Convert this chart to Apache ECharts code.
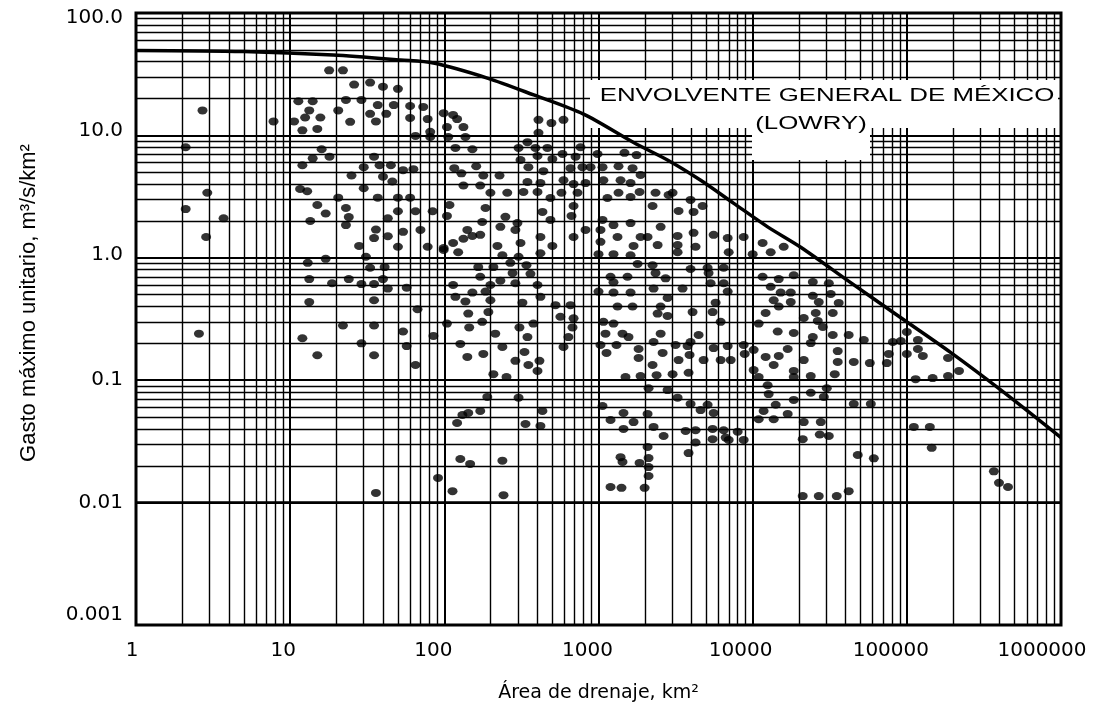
<!DOCTYPE html>
<html>
<head>
<meta charset="utf-8">
<title>Envolvente general de México (Lowry)</title>
<script src="https://cdn.jsdelivr.net/npm/echarts@6/dist/echarts.min.js"></script>
<style>
  html, body { margin: 0; padding: 0; background: #fff; }
  #chart { width: 1104px; height: 706px; }
</style>
</head>
<body>
<div id="chart"></div>
<script>
// papel log-log: decadas y subdivisiones
const decadasX = [1, 10, 100, 1000, 10000, 100000];
const decadasY = [0.001, 0.01, 0.1, 1, 10];
const subdivisiones = [2, 3, 4, 5, 6, 7, 8, 9];
const etiquetasX = ['1', '10', '100', '1000', '10000', '100000', '1000000'];
const etiquetasY = ['0.001', '0.01', '0.1', '1.0', '10.0', '100.0'];

// envolvente de Lowry
const curvaArea = [1, 5, 19, 52, 85, 190, 380, 800, 1700, 2800, 4600, 7500, 12500, 20500, 43000, 91000, 193000, 408000, 1000000];
const curvaGasto = [49.5, 48.5, 45.4, 41.3, 39, 29.4, 21.4, 14.9, 8.7, 6.3, 4.3, 2.8, 1.79, 1.22, 0.63, 0.325, 0.168, 0.083, 0.034];

// estaciones: [area km2, gasto m3/s/km2]
const estaciones = [
  [17.9,34],[22,34],[26,26],[33,27],[40,25],[50,24],[2.7,16],[7.8,13],[11.3,19],[14,19],[13.3,16],[10.6,13],[12.5,14],[15.7,14],
  [12,11],[15,11.3],[20.5,16],[23,19.5],[29,19.5],[24.5,12.9],[33,15],[36,13],[37,17.7],[42,15],[47,17.7],[2.1,8],[16,7.7],[14,6.5],
  [18,6.7],[12,5.7],[25,4.7],[30,5.5],[35,6.7],[38,5.7],[45,5.7],[40,4.6],[46,4.2],[2.9,3.4],[11.6,3.65],[12.9,3.5],[20.5,3.1],[30,3.7],
  [37,3.1],[50,3.1],[2.1,2.5],[15,2.7],[17,2.3],[23,2.55],[24,2.15],[23,1.85],[13.5,2],[3.7,2.1],[50,2.4],[43,2.1],[36,1.7],[43,1.5],
  [35,1.45],[2.85,1.48],[28,1.25],[50,1.23],
  [13,0.91],[17,0.98],[31,1.02],[33,0.83],[41,0.84],[13.3,0.67],[18.7,0.62],[24,0.67],[29,0.61],[35,0.61],[40,0.67],[43,0.56],
  [13.3,0.435],[35,0.45],[22,0.28],[35,0.28],[2.56,0.24],[12,0.22],[29,0.2],[15,0.16],[35,0.16],[36,0.012],
  [60,17.4],[73,17.1],[60,13.9],[78,13.6],[99,15.2],[114,14.7],[121,13.6],[104,11.7],[133,11.7],[65,9.9],[81,10.7],[81,9.7],[106,9.7],
  [137,9.7],[118,7.9],[152,7.7],[63,5.3],[116,5.4],[129,4.9],[161,5.6],[54,5.2],[60,3.1],[133,3.9],[171,3.9],[199,3.4],[256,3.4],
  [228,4.7],[179,4.7],[65,2.4],[84,2.4],[108,2.7],[104,2.2],[185,2.55],[176,1.96],[249,2.16],[298,1.92],[289,1.69],[231,1.79],[141,1.69],
  [152,1.51],[133,1.43],[171,1.54],[114,1.32],[70,1.69],[54,1.63],[78,1.23],[99,1.2],[221,1.25],[312,1.32],
  [408,13.4],[495,12.6],[593,13.4],[408,10.5],[346,8.8],[303,7.9],[390,7.9],[466,7.9],[764,8],[584,7.05],[502,6.4],[402,6.8],[710,6.7],
  [986,7.05],[312,6.3],[351,5.5],[439,5.1],[658,5.4],[787,5.5],[888,5.5],[1062,5.5],[1348,5.6],[1663,5.4],[1474,7.2],[1766,6.9],[1875,4.75],
  [346,4.16],[420,4.08],[593,4.3],[689,4],[824,4.08],[1076,4.3],[1390,4.3],[1614,4.08],[326,3.45],[402,3.45],[488,3.08],[575,3.4],
  [731,3.4],[1143,3.08],[1348,3.4],[1614,3.14],[1847,3.45],[2344,3.4],[3024,3.4],[2848,3.26],[2242,2.65],[3955,2.97],[4734,2.65],
  [3307,2.41],[4137,2.37],[433,2.37],[689,2.65],[488,2.04],[668,2.2],[1062,2.04],[1251,1.85],[1614,1.92],[2530,1.79],[1875,1.48],
  [824,1.69],[1030,1.69],[689,1.48],[420,1.48],[502,1.25],[1030,1.35],[1328,1.48],[1688,1.25],[2081,1.48],[3259,1.51],[3259,1.27],
  [4137,1.6],[5580,1.54],[6886,1.45],[8744,1.48],[11600,1.32],[15900,1.23],[4263,1.23],[2418,1.27],
  [99,1.16],[123,1.11],[238,1.05],[303,1.02],[420,1.09],[1000,1.07],[1251,1.07],[1614,1.05],[3259,1.11],[6989,1.11],[10000,1.07],[13090,1.11],
  [166,0.84],[208,0.84],[268,0.91],[341,0.87],[1792,0.89],[2242,0.87],[3955,0.81],[5101,0.83],[6487,0.83],
  [277,0.75],[362,0.74],[171,0.7],[231,0.65],[289,0.62],[1197,0.7],[1542,0.7],[2344,0.75],[2724,0.68],[5177,0.75],[5335,0.62],[6487,0.62],
  [11600,0.7],[14760,0.67],[18470,0.72],
  [57,0.57],[114,0.6],[152,0.52],[199,0.6],[185,0.53],[402,0.6],[1251,0.63],[1000,0.53],[1251,0.52],[1614,0.52],[2276,0.56],[3510,0.56],
  [6886,0.53],[13090,0.58],[15200,0.52],[17660,0.52],
  [118,0.48],[137,0.44],[199,0.45],[321,0.43],[420,0.48],[526,0.41],[658,0.41],[1328,0.4],[1663,0.4],[2530,0.4],[2806,0.47],[5750,0.43],
  [13690,0.45],[17660,0.435],
  [67,0.38],[143,0.35],[193,0.36],[566,0.33],[689,0.32],[1076,0.3],[1251,0.29],[2418,0.35],[2806,0.335],[4076,0.36],[5497,0.36],[6197,0.3],
  [12140,0.354],[14760,0.4],[10940,0.29],
  [104,0.29],[176,0.3],[145,0.27],[307,0.27],[378,0.29],[678,0.27],[1110,0.24],[1431,0.24],[1566,0.225],[2530,0.24],[14530,0.25],[54,0.25],
  [85,0.23],[214,0.24],[346,0.225],[638,0.225],[4460,0.234],
  [57,0.19],[127,0.198],[238,0.187],[593,0.187],[1030,0.194],[1309,0.194],[1820,0.18],[2276,0.205],[3162,0.194],[3955,0.205],[3784,0.19],
  [5580,0.183],[6886,0.19],[8744,0.194],[10150,0.177],[12140,0.155],[14760,0.158],[16870,0.18],
  [65,0.133],[141,0.155],[179,0.164],[289,0.144],[331,0.17],[351,0.133],[414,0.144],[402,0.119],[1127,0.167],[1820,0.152],[2242,0.133],
  [2606,0.167],[3307,0.146],[3897,0.161],[4805,0.146],[6197,0.146],[7201,0.146],[8877,0.164],[13690,0.133],
  [208,0.112],[253,0.106],[1497,0.106],[1875,0.108],[2381,0.11],[3024,0.112],[3840,0.115],[10150,0.121],[10940,0.106],[18470,0.106],
  [2112,0.086],[2806,0.083],[3259,0.072],[12510,0.091],[12700,0.077],[190,0.073],[303,0.072],[1062,0.0615],[3955,0.064],[5101,0.063],[14110,0.063],
  [131,0.052],[143,0.054],[171,0.056],[433,0.056],[1453,0.054],[2081,0.053],[4595,0.057],[5580,0.054],[11780,0.056],[16870,0.053],
  [121,0.0447],[336,0.0439],[420,0.0423],[1197,0.0473],[1688,0.0455],[2276,0.0415],[1453,0.04],[3673,0.0385],[4263,0.039],[5497,0.04],
  [6487,0.039],[7993,0.038],[10940,0.048],[2645,0.035],[6683,0.034],[8744,0.0325],[4263,0.031],[5497,0.033],[6989,0.0325],[2081,0.0285],
  [3840,0.0254],
  [127,0.0227],[147,0.0207],[238,0.022],[1390,0.0235],[1431,0.0215],[2112,0.0231],[1847,0.0211],[2112,0.0195],[91,0.0159],[2112,0.0165],
  [113,0.0124],[242,0.0115],[1197,0.0134],[1410,0.0132],[1991,0.0132],
  [24550,0.634],[31180,0.62],[24550,0.49],[32100,0.506],[26840,0.435],[36150,0.428],[21440,0.322],[25650,0.354],[33070,0.354],[26440,0.305],
  [28510,0.272],[18470,0.243],[24550,0.225],[23820,0.201],[33070,0.234],[41970,0.234],[52580,0.213],[81100,0.205],[91400,0.209],
  [100000,0.248],[118000,0.213],[118000,0.18],[76390,0.164],[100000,0.164],[127000,0.158],[185000,0.152],[218000,0.119],[185000,0.108],
  [147000,0.104],[114000,0.102],[35620,0.173],[35620,0.141],[45260,0.141],[57530,0.138],[74180,0.138],[21440,0.146],[18470,0.119],
  [23820,0.108],[34070,0.112],[23820,0.079],[30250,0.086],[28940,0.073],[18470,0.069],[45260,0.064],[58400,0.064],[21440,0.0455],
  [27660,0.0455],[27250,0.036],[31180,0.035],[21120,0.033],[111000,0.0415],[141000,0.0415],[145000,0.028],[48060,0.0245],[61060,0.023],
  [367000,0.018],[396000,0.0145],[453000,0.0134],[21120,0.0113],[26840,0.0113],[35100,0.0113],[41970,0.0124],[13690,0.048]
];

const curva = curvaArea.map((a, i) => [a, curvaGasto[i]]);

// lineas secundarias del papel logaritmico
const lineasMenores = [];
decadasX.forEach(d => subdivisiones.forEach(s => lineasMenores.push({ xAxis: d * s })));
decadasY.forEach(d => subdivisiones.forEach(s => lineasMenores.push({ yAxis: d * s })));

const chart = echarts.init(document.getElementById('chart'), null, { renderer: 'canvas' });

const negro = '#000';
const fuenteNum = 'DejaVu Sans';

// pequeños corrimientos de las etiquetas como en el original
const richX = {};
[8, 14, 22, 22, 24, 32, 38].forEach((p, i) => {
  richX['s' + i] = { padding: [0, p, 0, 0], fontFamily: fuenteNum, fontSize: 20, color: negro };
});
const richY = {};
const padY = [[0, 0, 20, 0], [0, 0, 0, 0], [0, 0, 0, 0], [0, 0, 6, 0], [0, 0, 10, 0], [10, 0, 0, 0]];
etiquetasY.forEach((t, i) => {
  richY['e' + i] = { padding: padY[i], fontFamily: fuenteNum, fontSize: 20, color: negro };
});

const option = {
  backgroundColor: '#fff',
  animation: false,
  grid: {
    left: 136, right: 43, top: 13, bottom: 81,
    containLabel: false,
    outerBoundsMode: 'none',
    show: true,
    borderColor: negro,
    borderWidth: 3,
    backgroundColor: 'transparent'
  },
  xAxis: {
    type: 'log',
    logBase: 10,
    min: 1,
    max: 1000000,
    splitNumber: 6,
    name: 'Área de drenaje, km²',
    nameLocation: 'middle',
    nameGap: 59,
    nameTextStyle: { fontFamily: fuenteNum, fontSize: 19, color: negro },
    axisLine: { show: false },
    axisTick: { show: false },
    axisLabel: {
      margin: 16,
      color: negro,
      fontFamily: fuenteNum,
      fontSize: 20,
      formatter: function (v) {
        const i = Math.round(Math.log10(v));
        return '{s' + i + '|' + etiquetasX[i] + '}';
      },
      rich: richX
    },
    splitLine: { show: true, lineStyle: { color: negro, width: 2 } }
  },
  yAxis: {
    type: 'log',
    logBase: 10,
    min: 0.001,
    max: 100,
    splitNumber: 5,
    name: 'Gasto máximo unitario, m³/s/km²',
    nameLocation: 'middle',
    nameGap: 96,
    nameTextStyle: { fontFamily: 'Liberation Sans', fontSize: 22, color: negro, padding: [0, 0, 0, 32] },
    axisLine: { show: false },
    axisTick: { show: false },
    axisLabel: {
      margin: 13,
      color: negro,
      fontFamily: fuenteNum,
      fontSize: 20,
      formatter: function (v) {
        const i = Math.round(Math.log10(v)) + 3;
        return '{e' + i + '|' + etiquetasY[i] + '}';
      },
      rich: richY
    },
    splitLine: { show: true, lineStyle: { color: negro, width: 2 } }
  },
  series: [
    {
      // reticula secundaria
      type: 'line',
      data: [],
      silent: true,
      markLine: {
        z: 1,
        silent: true,
        animation: false,
        symbol: ['none', 'none'],
        label: { show: false },
        emphasis: { disabled: true },
        lineStyle: { color: negro, width: 1.4, type: 'solid' },
        data: lineasMenores
      }
    },
    {
      name: 'Estaciones',
      type: 'scatter',
      z: 10,
      silent: true,
      symbol: 'circle',
      symbolSize: [10, 8],
      itemStyle: { color: negro },
      data: estaciones
    },
    {
      name: 'Envolvente (Lowry)',
      type: 'line',
      z: 11,
      silent: true,
      data: curva,
      showSymbol: false,
      smooth: 0.3,
      lineStyle: { color: negro, width: 3.5 }
    }
  ],
  graphic: [
    { type: 'rect', z: 3, silent: true, shape: { x: 590, y: 80, width: 468, height: 48 }, style: { fill: '#fff' } },
    { type: 'rect', z: 3, silent: true, shape: { x: 752, y: 125, width: 118, height: 35 }, style: { fill: '#fff' } },
    {
      type: 'text', z: 20, silent: true, x: 827, y: 96, scaleX: 1.36,
      style: {
        text: 'ENVOLVENTE GENERAL DE MÉXICO', fill: negro,
        font: '19px "Liberation Sans", Arial, sans-serif',
        align: 'center', verticalAlign: 'middle',
        textAlign: 'center', textVerticalAlign: 'middle'
      }
    },
    {
      type: 'text', z: 20, silent: true, x: 811, y: 124, scaleX: 1.36,
      style: {
        text: '(LOWRY)', fill: negro,
        font: '19px "Liberation Sans", Arial, sans-serif',
        align: 'center', verticalAlign: 'middle',
        textAlign: 'center', textVerticalAlign: 'middle'
      }
    }
  ]
};

chart.setOption(option);
</script>
</body>
</html>
